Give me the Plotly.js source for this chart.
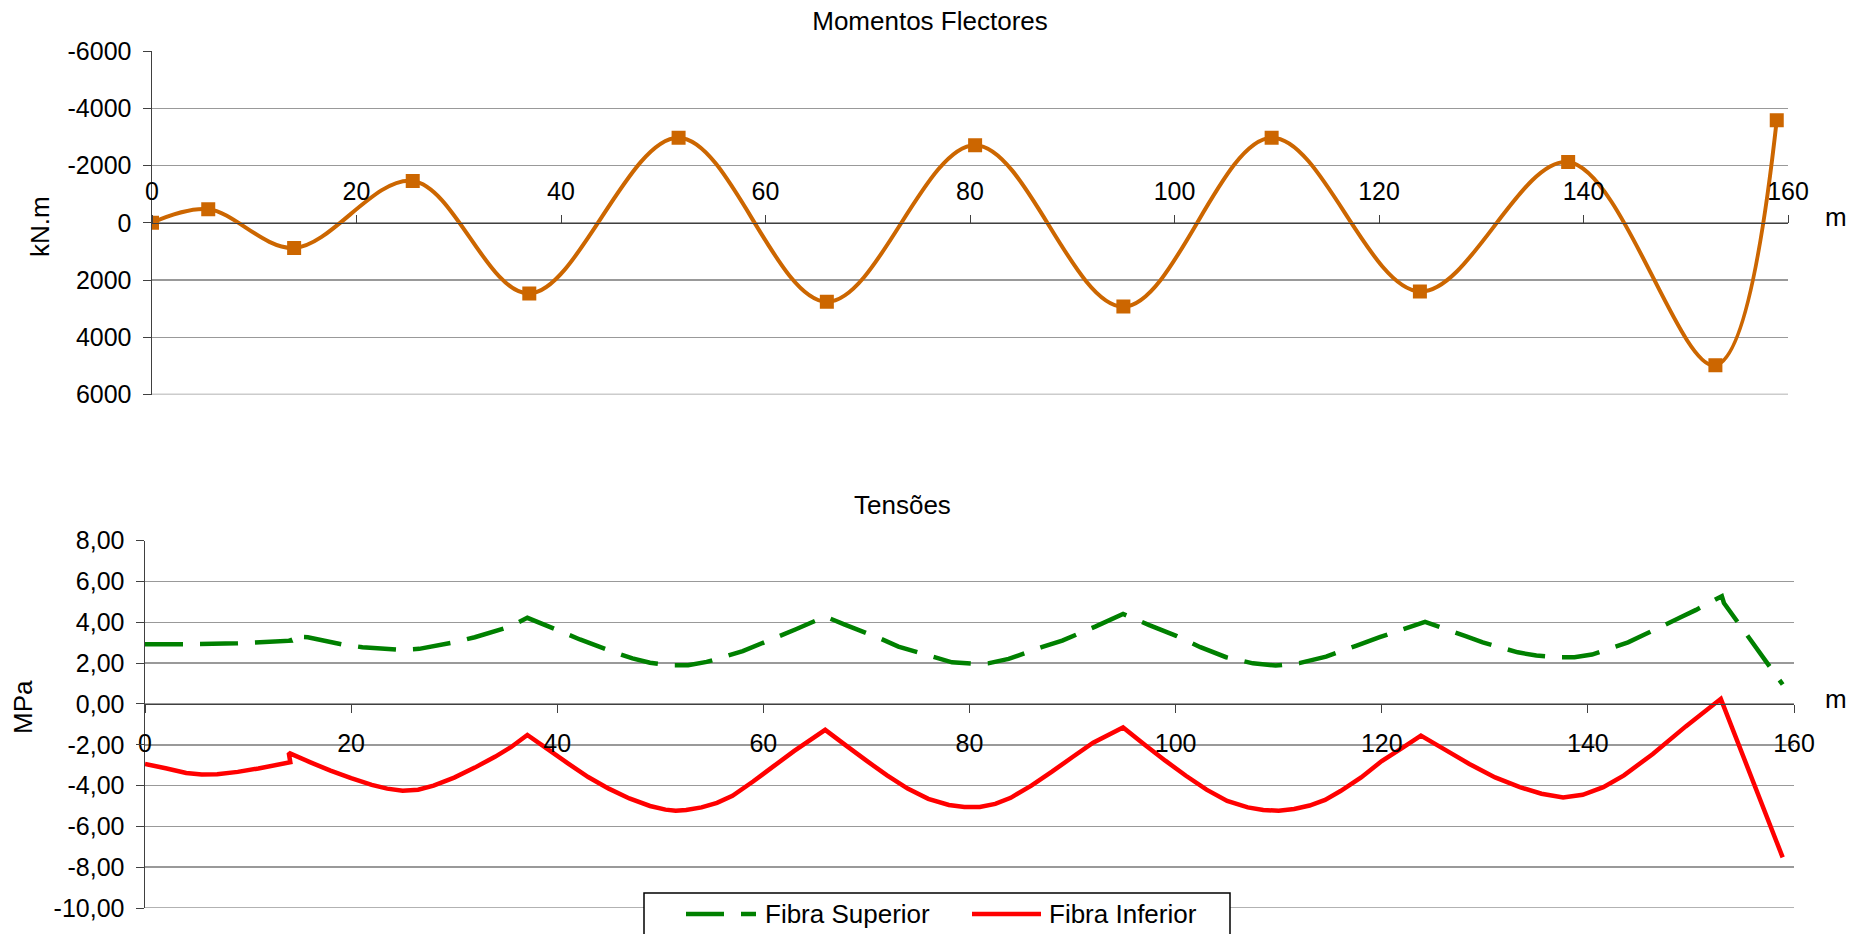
<!DOCTYPE html>
<html>
<head>
<meta charset="utf-8">
<script src="https://cdn.plot.ly/plotly-3.0.1.min.js"></script>
<style>
  html, body { margin: 0; padding: 0; background: #fff; }
  #chart { width: 1863px; height: 934px; }
</style>
</head>
<body>
<div id="chart"></div>
<script>
// ---- Momentos Flectores (kN.m) ----
const momX = [0, 5.5, 13.9, 25.5, 36.9, 51.5, 66.0, 80.5, 95.0, 109.5, 124.0, 138.5, 152.9, 158.9];
const momY = [0, -470, 880, -1460, 2470, -2970, 2760, -2710, 2930, -2970, 2400, -2120, 4980, -3585];

const momTickVals = [-6000, -4000, -2000, 0, 2000, 4000, 6000];
const momTickText = ["-6000", "-4000", "-2000", "0", "2000", "4000", "6000"];

// ---- Tensões (MPa) ----
const supX = [0, 5, 9, 14.1, 13.95, 15.8, 19.2, 21.1, 24.7, 26.6, 30.0, 32.0, 35.4, 37.1,
              40.4, 42.2, 45.6, 47.3, 49.0, 50.8, 52.7, 54.5, 56.2, 58.0, 61.4, 63.1, 66.0,
              67.9, 71.2, 73.1, 76.4, 78.3, 80.5, 81.8, 83.8, 87.0, 89.0, 92.2, 94.9,
              97.5, 100.0, 102.4, 104.9, 107.5, 109.7, 112.0, 114.6, 117.5, 119.8, 124.2,
              128.0, 129.8, 133.2, 135.0, 137.0, 138.7, 140.4, 143.9, 145.5, 148.9, 150.5, 153.0, 153.2, 158.9];
const supY = [2.93, 2.93, 2.97, 3.10, 3.30, 3.27, 2.91, 2.78, 2.65, 2.70, 3.02, 3.27, 3.79, 4.22,
              3.54, 3.16, 2.52, 2.23, 2.02, 1.90, 1.90, 2.06, 2.31, 2.59, 3.29, 3.65, 4.28,
              3.89, 3.24, 2.81, 2.32, 2.04, 1.97, 1.99, 2.21, 2.78, 3.10, 3.79, 4.41,
              3.85, 3.35, 2.78, 2.29, 1.99, 1.88, 2.00, 2.32, 2.85, 3.27, 4.02,
              3.35, 3.02, 2.53, 2.37, 2.29, 2.29, 2.42, 3.02, 3.40, 4.22, 4.61, 5.28, 4.95, 0.95];

const infX = [0, 2, 4, 5.5, 7, 9, 11, 14.1, 13.95, 16, 18, 20, 22, 23.5, 25, 26.5, 28, 30, 32, 34, 35.5, 37.1,
              39, 41, 43, 45, 47, 49, 50.5, 51.5, 52.5, 54, 55.5, 57, 59, 61, 63, 66.0,
              68, 70, 72, 74, 76, 78, 79.5, 81, 82.5, 84, 86, 88, 90, 92, 94.9,
              97, 99, 101, 103, 105, 107, 108.5, 110, 111.5, 113, 114.5, 116, 118, 120, 122, 123.8,
              126, 128.5, 131, 133.4, 135.5, 137.6, 139.5, 141.5, 143.5, 146.3, 149.5, 152.9, 158.9];
const infY = [-2.94, -3.15, -3.38, -3.46, -3.44, -3.33, -3.16, -2.86, -2.40, -2.85, -3.27, -3.64, -3.97, -4.15, -4.25, -4.20, -4.00, -3.61, -3.12, -2.58, -2.12, -1.52,
              -2.19, -2.90, -3.58, -4.15, -4.63, -5.00, -5.18, -5.23, -5.20, -5.07, -4.85, -4.50, -3.80, -3.05, -2.30, -1.27,
              -2.03, -2.78, -3.50, -4.15, -4.65, -4.95, -5.05, -5.05, -4.90, -4.60, -4.00, -3.32, -2.60, -1.90, -1.15,
              -2.00, -2.78, -3.52, -4.20, -4.75, -5.07, -5.20, -5.23, -5.15, -4.98, -4.70, -4.27, -3.60, -2.80, -2.15, -1.55,
              -2.20, -2.94, -3.60, -4.08, -4.40, -4.58, -4.45, -4.08, -3.50, -2.45, -1.10, 0.25, -7.52];

const tenTickVals = [8, 6, 4, 2, 0, -2, -4, -6, -8, -10];
const tenTickText = ["8,00", "6,00", "4,00", "2,00", "0,00", "-2,00", "-4,00", "-6,00", "-8,00", "-10,00"];

const xTickVals = [0, 20, 40, 60, 80, 100, 120, 140, 160];

const legendNames = ["Fibra Superior", "Fibra Inferior"];

const FONT = "Liberation Sans, Arial, sans-serif";
const W = 1863, H = 934;
const px = v => v / W;
const py = v => 1 - v / H;

const GREEN = '#008000', RED = '#FF0000', ORANGE = '#CC6600';
const GREEN_DASH = '38px,17px';

const traces = [
  {
    x: momX, y: momY, xaxis: 'x', yaxis: 'y',
    type: 'scatter', mode: 'lines+markers', name: 'Momentos',
    line: {color: ORANGE, width: 4, shape: 'spline', smoothing: 1},
    marker: {symbol: 'square', size: 14, color: ORANGE},
    showlegend: false, hoverinfo: 'skip'
  },
  {
    x: supX, y: supY, xaxis: 'x2', yaxis: 'y2',
    type: 'scatter', mode: 'lines', name: legendNames[0],
    line: {color: GREEN, width: 4.5, dash: GREEN_DASH, simplify: false},
    showlegend: false, hoverinfo: 'skip'
  },
  {
    x: infX, y: infY, xaxis: 'x2', yaxis: 'y2',
    type: 'scatter', mode: 'lines', name: legendNames[1],
    line: {color: RED, width: 4.5, simplify: false},
    showlegend: false, hoverinfo: 'skip'
  }
];

const gridCol = '#999999';
const axCol = '#404040';
const tickFont = {family: FONT, size: 25, color: '#000'};
const textFont = {family: FONT, size: 26, color: '#000'};

const layout = {
  width: W, height: H,
  margin: {l: 0, r: 0, t: 0, b: 0},
  paper_bgcolor: '#fff', plot_bgcolor: 'rgba(0,0,0,0)',
  font: {family: FONT, size: 25, color: '#000'},
  showlegend: false,
  title: {
    text: 'Momentos Flectores',
    font: textFont,
    x: px(930), xanchor: 'center', xref: 'paper',
    y: py(21), yanchor: 'middle', yref: 'paper'
  },
  xaxis: {
    domain: [px(152), px(1788)],
    range: [0, 160],
    anchor: 'free', position: py(222.75),
    side: 'top',
    tickvals: xTickVals,
    ticks: 'outside', ticklen: 8, tickcolor: axCol, tickwidth: 1,
    ticklabelstandoff: 5,
    showline: true, linecolor: axCol, linewidth: 1.5,
    showgrid: false, zeroline: false,
    tickfont: tickFont
  },
  yaxis: {
    domain: [py(394.5), py(51)],
    range: [6000, -6000],
    anchor: 'x',
    tickvals: momTickVals, ticktext: momTickText,
    ticks: 'outside', ticklen: 8, tickcolor: axCol,
    ticklabelstandoff: 6,
    showline: true, linecolor: axCol, linewidth: 1.5,
    showgrid: true, gridcolor: gridCol, gridwidth: 1.5,
    zeroline: false,
    tickfont: tickFont
  },
  xaxis2: {
    domain: [px(145), px(1794)],
    range: [0, 160],
    anchor: 'free', position: py(703.8),
    side: 'bottom',
    tickvals: xTickVals,
    ticks: 'outside', ticklen: 8, tickcolor: axCol, tickwidth: 1,
    ticklabelstandoff: 9,
    showline: true, linecolor: axCol, linewidth: 1.5,
    showgrid: false, zeroline: false,
    tickfont: tickFont
  },
  yaxis2: {
    domain: [py(908), py(540.7)],
    range: [-10, 8],
    anchor: 'x2',
    tickvals: tenTickVals, ticktext: tenTickText,
    ticks: 'outside', ticklen: 8, tickcolor: axCol,
    ticklabelstandoff: 6,
    showline: true, linecolor: axCol, linewidth: 1.5,
    showgrid: true, gridcolor: gridCol, gridwidth: 1.5,
    zeroline: false,
    tickfont: tickFont
  },
  shapes: [
    // bottom-edge gridlines of both plots
    {type: 'line', xref: 'x', yref: 'y', layer: 'below',
     x0: 0, x1: 160, y0: 6000, y1: 6000, line: {color: gridCol, width: 1.5}},
    {type: 'line', xref: 'x2', yref: 'y2', layer: 'below',
     x0: 0, x1: 160, y0: -10, y1: -10, line: {color: gridCol, width: 1.5}},
    // legend box
    {type: 'rect', xref: 'paper', yref: 'paper', layer: 'above',
     x0: px(644), x1: px(1230), y0: py(970), y1: py(893),
     fillcolor: '#fff', line: {color: '#000', width: 1.5}},
    // legend samples
    {type: 'line', xref: 'paper', yref: 'paper', layer: 'above',
     x0: px(686), x1: px(756), y0: py(914), y1: py(914),
     line: {color: GREEN, width: 4.5, dash: GREEN_DASH}},
    {type: 'line', xref: 'paper', yref: 'paper', layer: 'above',
     x0: px(972), x1: px(1041), y0: py(914), y1: py(914),
     line: {color: RED, width: 4.5}}
  ],
  annotations: [
    {text: 'Tensões', xref: 'paper', yref: 'paper', x: px(902), y: py(505),
     xanchor: 'center', yanchor: 'middle', showarrow: false, font: textFont},
    {text: 'm', xref: 'paper', yref: 'paper', x: px(1836), y: py(217),
     xanchor: 'center', yanchor: 'middle', showarrow: false, font: textFont},
    {text: 'm', xref: 'paper', yref: 'paper', x: px(1836), y: py(699),
     xanchor: 'center', yanchor: 'middle', showarrow: false, font: textFont},
    {text: 'kN.m', xref: 'paper', yref: 'paper', x: px(40), y: py(227),
     xanchor: 'center', yanchor: 'middle', showarrow: false, textangle: -90, font: textFont},
    {text: 'MPa', xref: 'paper', yref: 'paper', x: px(23), y: py(707),
     xanchor: 'center', yanchor: 'middle', showarrow: false, textangle: -90, font: textFont},
    {text: legendNames[0], xref: 'paper', yref: 'paper', x: px(763), y: py(914),
     xanchor: 'left', yanchor: 'middle', showarrow: false, font: textFont},
    {text: legendNames[1], xref: 'paper', yref: 'paper', x: px(1047), y: py(914),
     xanchor: 'left', yanchor: 'middle', showarrow: false, font: textFont}
  ]
};

Plotly.newPlot('chart', traces, layout, {staticPlot: true, displayModeBar: false});
</script>
</body>
</html>
